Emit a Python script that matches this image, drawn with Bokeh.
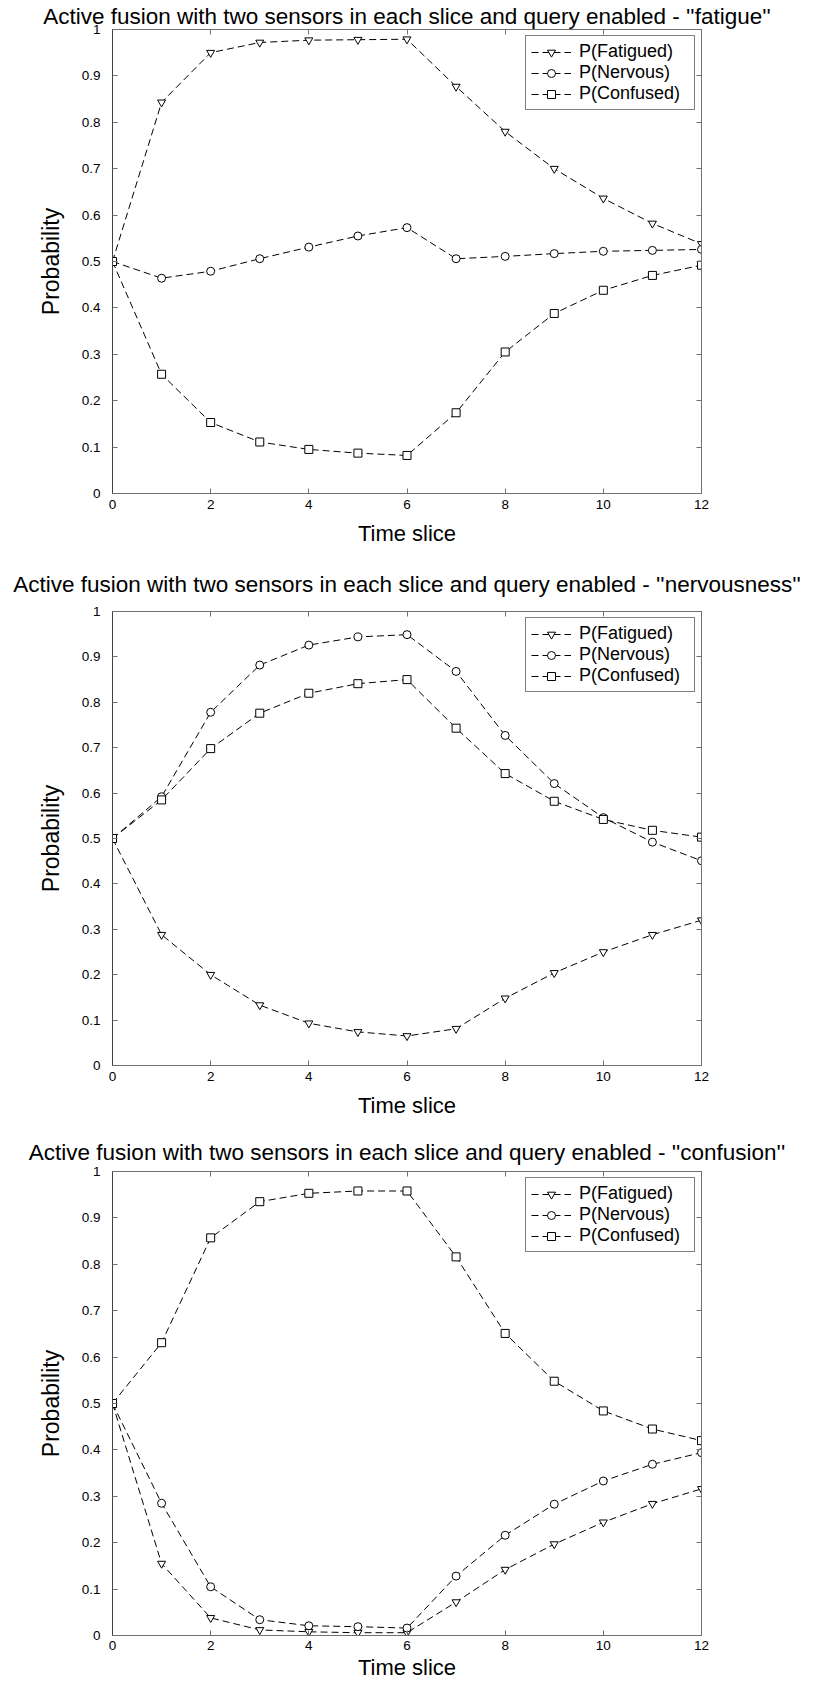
from bokeh.plotting import figure
from bokeh.models import LinearAxis, FixedTicker, Legend
from bokeh.layouts import column
from bokeh.embed import file_html
from bokeh.resources import INLINE

# ---------------- data ----------------
time_slice = [0, 1, 2, 3, 4, 5, 6, 7, 8, 9, 10, 11, 12]

titles = [
    'Active fusion with two sensors in each slice and query enabled - \'\'fatigue\'\'',
    'Active fusion with two sensors in each slice and query enabled - \'\'nervousness\'\'',
    'Active fusion with two sensors in each slice and query enabled - \'\'confusion\'\'',
]

series_names = ["P(Fatigued)", "P(Nervous)", "P(Confused)"]

# panel 1 - "fatigue"
fatigue_fatigued = [0.5, 0.843, 0.950, 0.972, 0.977, 0.978, 0.979, 0.877, 0.780, 0.700, 0.636, 0.582, 0.538]
fatigue_nervous  = [0.5, 0.464, 0.479, 0.506, 0.531, 0.555, 0.573, 0.506, 0.511, 0.517, 0.522, 0.524, 0.526]
fatigue_confused = [0.5, 0.257, 0.153, 0.111, 0.095, 0.087, 0.082, 0.174, 0.305, 0.388, 0.438, 0.470, 0.492]

# panel 2 - "nervousness"
nerv_fatigued = [0.5, 0.288, 0.200, 0.133, 0.093, 0.074, 0.065, 0.081, 0.148, 0.204, 0.250, 0.288, 0.320]
nerv_nervous  = [0.5, 0.592, 0.778, 0.882, 0.926, 0.944, 0.949, 0.868, 0.727, 0.621, 0.546, 0.492, 0.451]
nerv_confused = [0.5, 0.585, 0.698, 0.776, 0.820, 0.841, 0.850, 0.743, 0.643, 0.582, 0.542, 0.518, 0.503]

# panel 3 - "confusion"
conf_fatigued = [0.5, 0.155, 0.038, 0.012, 0.008, 0.006, 0.006, 0.072, 0.142, 0.197, 0.244, 0.284, 0.316]
conf_nervous  = [0.5, 0.285, 0.105, 0.034, 0.021, 0.019, 0.016, 0.128, 0.216, 0.283, 0.333, 0.369, 0.394]
conf_confused = [0.5, 0.631, 0.857, 0.935, 0.953, 0.958, 0.958, 0.816, 0.651, 0.548, 0.484, 0.445, 0.420]

panels = [
    [fatigue_fatigued, fatigue_nervous, fatigue_confused],
    [nerv_fatigued, nerv_nervous, nerv_confused],
    [conf_fatigued, conf_nervous, conf_confused],
]

x_ticks = [0, 2, 4, 6, 8, 10, 12]
y_ticks = [0, 0.1, 0.2, 0.3, 0.4, 0.5, 0.6, 0.7, 0.8, 0.9, 1]
y_tick_labels = ["0", "0.1", "0.2", "0.3", "0.4", "0.5", "0.6", "0.7", "0.8", "0.9", "1"]

x_label = "Time slice"
y_label = "Probability"

# ---------------- style ----------------
FONT = "Liberation Sans"
markers = ["inverted_triangle", "circle", "square"]
AX_COL = "#707070"

# per-panel layout: (height, top border, bottom border, title standoff,
#                    tick-label standoff, axis-label standoff)
layouts = [
    (555, 28, 62, 2, 6, 9),
    (572, 45, 62, 29, 6, 9),
    (555, 44, 46, 14, 5, 2),
]

figs = []
for i, (data, title) in enumerate(zip(panels, titles)):
    h, bt, bb, tstand, lstand, astand = layouts[i]
    p = figure(width=806, height=h, x_range=(0, 12), y_range=(0, 1),
               output_backend="svg", toolbar_location=None,
               min_border_left=112, min_border_right=105,
               min_border_top=bt, min_border_bottom=bb)
    p.title.text = title
    p.title.text_font = FONT
    p.title.text_font_size = "22.5px"
    p.title.text_font_style = "normal"
    p.title.text_color = "black"
    p.title.align = "center"
    p.title.standoff = tstand
    p.xgrid.visible = False
    p.ygrid.visible = False
    p.outline_line_color = AX_COL
    p.background_fill_color = "white"
    p.border_fill_color = "white"

    items = []
    for vals, name, mk in zip(data, series_names, markers):
        ln = p.line(time_slice, vals, line_color="black", line_width=1, line_dash="7 4")
        sc = p.scatter(time_slice, vals, marker=mk, size=8, fill_color="white",
                       line_color="black", line_width=1)
        items.append((name, [ln, sc]))

    # bottom axis
    xa = p.xaxis[0]
    xa.ticker = FixedTicker(ticks=x_ticks)
    xa.axis_label = x_label
    xa.axis_line_color = AX_COL
    xa.major_tick_line_color = AX_COL
    xa.major_tick_in = 5
    xa.major_tick_out = 0
    xa.minor_tick_line_color = None
    xa.major_label_text_font = FONT
    xa.major_label_text_font_size = "13.5px"
    xa.major_label_text_color = "black"
    xa.major_label_standoff = lstand
    xa.axis_label_text_font = FONT
    xa.axis_label_text_font_size = "22px"
    xa.axis_label_text_font_style = "normal"
    xa.axis_label_text_color = "black"
    xa.axis_label_standoff = astand

    # left axis
    ya = p.yaxis[0]
    ya.ticker = FixedTicker(ticks=y_ticks)
    ya.major_label_overrides = {t: lab for t, lab in zip(y_ticks, y_tick_labels)}
    ya.axis_label = y_label
    ya.axis_line_color = "#404040"
    ya.major_tick_line_color = AX_COL
    ya.major_tick_in = 5
    ya.major_tick_out = 0
    ya.minor_tick_line_color = None
    ya.major_label_text_font = FONT
    ya.major_label_text_font_size = "13.5px"
    ya.major_label_text_color = "black"
    ya.major_label_standoff = 12
    ya.axis_label_text_font = FONT
    ya.axis_label_text_font_size = "23px"
    ya.axis_label_text_font_style = "normal"
    ya.axis_label_text_color = "black"
    ya.axis_label_standoff = 15

    # top and right axes: ticks only
    top = LinearAxis(ticker=FixedTicker(ticks=x_ticks))
    right = LinearAxis(ticker=FixedTicker(ticks=y_ticks))
    for ax, ticks in ((top, x_ticks), (right, y_ticks)):
        ax.major_label_overrides = {t: "" for t in ticks}
        ax.major_label_text_font_size = "0px"
        ax.major_label_standoff = 0
        ax.axis_line_color = AX_COL
        ax.major_tick_line_color = AX_COL
        ax.major_tick_in = 5
        ax.major_tick_out = 0
        ax.minor_tick_line_color = None
    p.add_layout(top, "above")
    p.add_layout(right, "right")

    legend = Legend(items=items, location="top_right")
    legend.margin = 6
    legend.padding = 5
    legend.spacing = 0
    legend.label_height = 20
    legend.label_width = 110
    legend.glyph_height = 20
    legend.glyph_width = 40
    legend.label_standoff = 8
    legend.label_text_font = FONT
    legend.label_text_font_size = "18px"
    legend.label_text_color = "black"
    legend.border_line_color = "black"
    legend.border_line_width = 1
    legend.background_fill_color = "white"
    legend.background_fill_alpha = 1
    p.add_layout(legend, "center")

    figs.append(p)

layout = column(*figs, spacing=0)
open("out.html", "w").write(file_html(layout, INLINE))
